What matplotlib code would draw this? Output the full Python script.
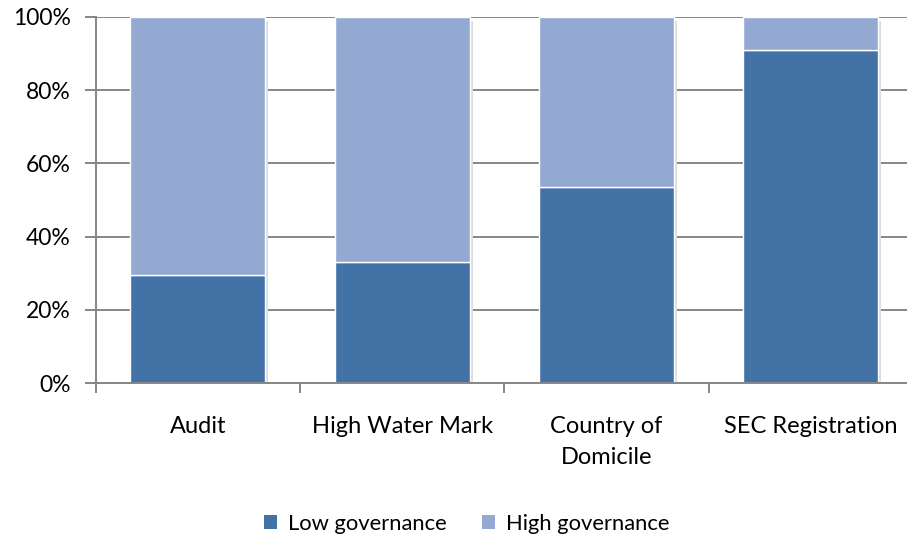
import numpy as np
import matplotlib
matplotlib.use("Agg")
import matplotlib.pyplot as plt
from matplotlib.patches import Patch
from matplotlib.ticker import FixedLocator, PercentFormatter

categories = ["Audit", "High Water Mark", "Country of\nDomicile", "SEC Registration"]
low_gov = [29.5, 33.0, 53.5, 91.0]
high_gov = [100 - v for v in low_gov]

DARK = "#4372A7"
LIGHT = "#94A9D1"
GRID = "#868686"

plt.rcParams["font.family"] = ["Lato", "DejaVu Sans"]

fig = plt.figure(figsize=(9.07, 5.4), dpi=100)
ax = fig.add_axes([0.1055, 0.2907, 0.901, 0.678])

x = np.arange(len(categories))
w = 0.66
# faint shadow behind bars
ax.bar(x + 0.015, [100] * len(x), width=w, bottom=-1.2, color="#dcdcdc", zorder=2)
ax.bar(x, low_gov, width=w, color=DARK, edgecolor="white", linewidth=1, zorder=3)
ax.bar(x, high_gov, width=w, bottom=low_gov, color=LIGHT, edgecolor="white", linewidth=1, zorder=3)

ax.set_xlim(-0.5, len(categories) - 0.5)
ax.set_ylim(0, 100)
ax.yaxis.set_major_locator(FixedLocator([0, 20, 40, 60, 80, 100]))
ax.yaxis.set_major_formatter(PercentFormatter(decimals=0))
ax.grid(axis="y", color=GRID, linewidth=1.4, zorder=1)
ax.set_axisbelow(True)

ax.set_xticks(x)
ax.set_xticklabels(categories, fontsize=17, linespacing=1.55)
ax.set_xticks(np.arange(len(categories) + 1) - 0.5, minor=True)
ax.tick_params(axis="x", which="major", length=0, pad=24)
ax.tick_params(axis="x", which="minor", length=7, width=1.4, color=GRID, direction="out")
ax.tick_params(axis="y", length=8, width=1.4, color=GRID, direction="out", labelsize=16.5, pad=10)

for s in ["top", "right"]:
    ax.spines[s].set_visible(False)
for s in ["left", "bottom"]:
    ax.spines[s].set_color(GRID)
    ax.spines[s].set_linewidth(1.4)
    ax.spines[s].set_zorder(4)

handles = [Patch(facecolor=DARK, label="Low governance"),
           Patch(facecolor=LIGHT, label="High governance")]
fig.legend(handles=handles, loc="center", bbox_to_anchor=(0.515, 0.03), ncol=2,
           frameon=False, fontsize=15.8, handlelength=0.6, handleheight=0.6,
           handletextpad=0.5, columnspacing=1.6)

fig.savefig("out.png", dpi=100)
